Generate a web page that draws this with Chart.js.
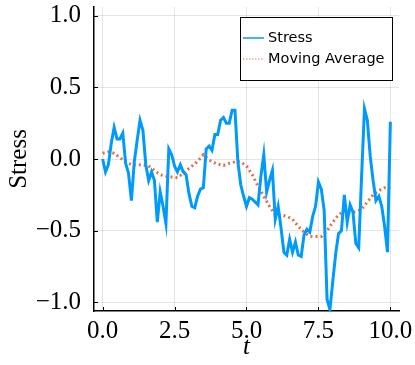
<!DOCTYPE html>
<html><head><meta charset="utf-8">
<script src="https://cdn.jsdelivr.net/npm/chart.js@4.4.1/dist/chart.umd.min.js"></script>
<style>html,body{margin:0;padding:0;background:#fff;} canvas{display:block}</style>
</head><body>
<canvas id="c" width="415" height="365"></canvas>
<script>
const seriesNames = ['Stress', 'Moving Average'];
const tValues = [0,0.1,0.2,0.3,0.4,0.5,0.6,0.7,0.8,0.9,1,1.1,1.2,1.3,1.4,1.5,1.6,1.7,1.8,1.9,2,2.1,2.2,2.3,2.4,2.5,2.6,2.7,2.8,2.9,3,3.1,3.2,3.3,3.4,3.5,3.6,3.7,3.8,3.9,4,4.1,4.2,4.3,4.4,4.5,4.6,4.7,4.8,4.9,5,5.1,5.2,5.3,5.4,5.5,5.6,5.7,5.8,5.9,6,6.1,6.2,6.3,6.4,6.5,6.6,6.7,6.8,6.9,7,7.1,7.2,7.3,7.4,7.5,7.6,7.7,7.8,7.9,8,8.1,8.2,8.3,8.4,8.5,8.6,8.7,8.8,8.9,9,9.1,9.2,9.3,9.4,9.5,9.6,9.7,9.8,9.9,10];
const stressValues = [0.00,-0.09,-0.04,0.11,0.22,0.14,0.14,0.18,-0.03,-0.10,
  -0.29,-0.02,0.13,0.27,0.20,-0.04,-0.15,-0.09,-0.15,-0.44,
  -0.23,-0.33,-0.45,0.07,0.03,-0.05,-0.09,-0.04,-0.09,-0.11,
  -0.24,-0.33,-0.34,-0.26,-0.21,-0.20,0.07,0.09,0.06,0.17,
  0.17,0.27,0.29,0.25,0.25,0.34,0.34,-0.02,-0.18,-0.26,
  -0.33,-0.27,-0.28,-0.30,-0.32,-0.12,0.03,-0.23,-0.15,-0.08,
  -0.42,-0.33,-0.48,-0.65,-0.67,-0.56,-0.65,-0.58,-0.67,-0.68,
  -0.53,-0.49,-0.51,-0.40,-0.33,-0.16,-0.21,-0.36,-0.98,-1.05,
  -0.85,-0.66,-0.52,-0.50,-0.25,-0.44,-0.32,-0.37,-0.59,-0.62,
  -0.12,0.35,0.27,0.02,-0.15,-0.29,-0.26,-0.33,-0.47,-0.65,
  0.26];
const maT = [0,0.2,0.4,0.6,0.8,1,1.2,1.4,1.6,1.8,2,2.2,2.4,2.6,2.8,3,3.2,3.4,3.5,3.6,3.8,4,4.2,4.4,4.6,4.8,5,5.2,5.4,5.6,5.8,6,6.2,6.4,6.6,6.8,7,7.2,7.4,7.6,7.8,8,8.2,8.4,8.6,8.8,9,9.2,9.4,9.6,9.8,10];
const maValues = [0.04,0.05,0.04,0.01,-0.02,-0.04,-0.04,-0.04,-0.05,-0.08,
  -0.11,-0.12,-0.125,-0.13,-0.10,-0.065,-0.035,0.005,0.03,0.01,
  -0.02,-0.035,-0.045,-0.03,-0.02,-0.02,-0.05,-0.11,-0.19,-0.26,
  -0.33,-0.39,-0.39,-0.40,-0.42,-0.47,-0.51,-0.54,-0.54,-0.54,
  -0.50,-0.44,-0.39,-0.36,-0.37,-0.37,-0.35,-0.30,-0.25,-0.22,
  -0.20,-0.20];
const xTicks = [0, 2.5, 5, 7.5, 10];
const yTicks = [-1, -0.5, 0, 0.5, 1];
const xLabel = 't';
const yLabel = 'Stress';

const BLUE = 'rgb(0,154,250)';
const ORANGE = 'rgb(227,111,71)';
const GRID = 'rgba(0,0,0,0.1)';
const SERIF = '"Liberation Serif", "Times New Roman", serif';
const fmt = v => (v < 0 ? '\u2212' : '') + Math.abs(v).toFixed(1);

const extras = {
  id: 'extras',
  afterDatasetsDraw(chart) {
    const ctx = chart.ctx, a = chart.chartArea;
    const xs = chart.scales.x, ys = chart.scales.y;
    ctx.save();
    ctx.strokeStyle = '#000';
    ctx.lineWidth = 1;
    ctx.beginPath();
    xTicks.forEach(v => { const px = Math.round(xs.getPixelForValue(v)) + 0.5; ctx.moveTo(px, a.bottom); ctx.lineTo(px, a.bottom - 4); });
    yTicks.forEach(v => { const py = Math.round(ys.getPixelForValue(v)) + 0.5; ctx.moveTo(a.left, py); ctx.lineTo(a.left + 4, py); });
    ctx.stroke();
    // legend
    const bx = 240.5, by = 17.5, bw = 152, bh = 63;
    ctx.fillStyle = '#fff';
    ctx.fillRect(bx, by, bw, bh);
    ctx.strokeStyle = '#000';
    ctx.lineWidth = 1;
    ctx.strokeRect(bx, by, bw, bh);
    const ds = chart.data.datasets;
    const rows = [38, 59];
    ds.forEach((d, i) => {
      const y = rows[i];
      ctx.strokeStyle = d.borderColor;
      ctx.globalAlpha = i === 0 ? 0.75 : 0.6;
      ctx.lineWidth = i === 0 ? 2 : 1.5;
      ctx.setLineDash(i === 0 ? [] : [1.5, 1.5]);
      ctx.beginPath(); ctx.moveTo(243, y); ctx.lineTo(264, y); ctx.stroke();
      ctx.setLineDash([]);
      ctx.globalAlpha = 1;
      ctx.fillStyle = '#000';
      ctx.font = '14.5px "DejaVu Sans", sans-serif';
      ctx.textBaseline = 'middle';
      ctx.textAlign = 'left';
      ctx.fillText(d.label, 268, y + 0.5);
    });
    ctx.restore();
  }
};

new Chart(document.getElementById('c'), {
  type: 'line',
  data: {
    datasets: [
      { label: seriesNames[0], data: tValues.map((t, i) => ({ x: t, y: stressValues[i] })),
        borderColor: BLUE, borderWidth: 3, pointRadius: 0, tension: 0, fill: false },
      { label: seriesNames[1], data: maT.map((t, i) => ({ x: t, y: maValues[i] })),
        borderColor: ORANGE, borderWidth: 3, borderDash: [2, 3], pointRadius: 0, tension: 0, fill: false }
    ]
  },
  options: {
    responsive: false,
    animation: false,
    layout: { padding: { left: 0, right: 16, top: 7, bottom: 0 } },
    plugins: { legend: { display: false }, tooltip: { enabled: false } },
    scales: {
      x: {
        type: 'linear', min: -0.3, max: 10.3,
        afterBuildTicks: s => { s.ticks = xTicks.map(v => ({ value: v })); },
        afterFit: s => { s.height = 54; s.paddingLeft = 0; s.paddingRight = 0; },
        ticks: { callback: v => fmt(v), color: '#000', font: { family: SERIF, size: 25 }, padding: 5, maxRotation: 0, autoSkip: false },
        grid: { color: GRID, lineWidth: 1, drawTicks: false },
        border: { display: true, color: '#000', width: 1.5 },
        title: { display: true, text: xLabel, color: '#000', font: { family: SERIF, size: 25, style: 'italic' }, padding: { top: 0, bottom: 3 } }
      },
      y: {
        type: 'linear', min: -1.06, max: 1.06,
        afterBuildTicks: s => { s.ticks = yTicks.map(v => ({ value: v })); },
        afterFit: s => { s.width = 94; s.paddingTop = 0; s.paddingBottom = 0; },
        ticks: { callback: v => fmt(v), color: '#000', font: { family: SERIF, size: 25 }, padding: 13, autoSkip: false },
        grid: { color: GRID, lineWidth: 1, drawTicks: false },
        border: { display: true, color: '#000', width: 1.5 },
        title: { display: true, text: yLabel, color: '#000', font: { family: SERIF, size: 25 }, padding: { top: 4, bottom: 0 } }
      }
    }
  },
  plugins: [extras]
});
</script>
</body></html>
